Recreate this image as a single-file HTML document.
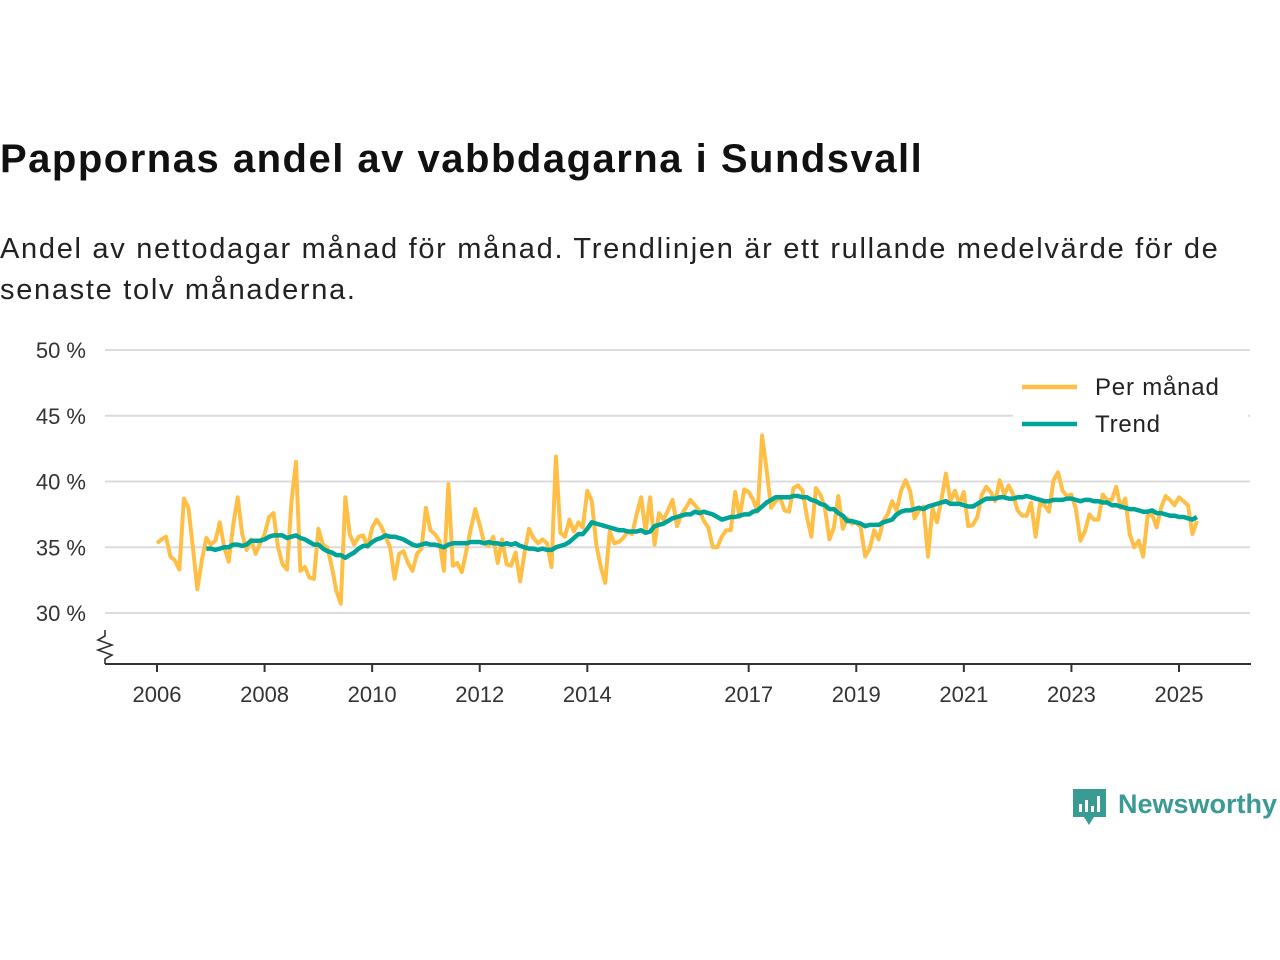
<!DOCTYPE html>
<html><head><meta charset="utf-8">
<style>
body{margin:0;width:1280px;height:960px;background:#fff;font-family:"Liberation Sans","DejaVu Sans",sans-serif;overflow:hidden;position:relative}
h1{position:absolute;left:0;top:137px;margin:0;font-size:40px;font-weight:bold;color:#111;letter-spacing:1.5px}
.sub{position:absolute;left:0;top:229px;margin:0;font-size:29px;line-height:41px;color:#222;width:1250px;letter-spacing:1.7px}
svg{position:absolute;left:0;top:0}
</style></head><body>
<h1>Pappornas andel av vabbdagarna i Sundsvall</h1>
<p class="sub">Andel av nettodagar månad för månad. Trendlinjen är ett rullande medelvärde för de senaste tolv månaderna.</p>
<svg id="chart" width="1280" height="960"></svg>
<script>
const startYear=2006;
const yTicks=[30,35,40,45,50];
const xTickYears=[2006,2008,2010,2012,2014,2017,2019,2021,2023,2025];
const monthly=[
35.3,35.6,35.8,34.3,34.0,33.3,38.7,38.0,35.0,31.8,34.0,35.7,
35.2,35.5,36.9,35.0,33.9,36.7,38.8,36.0,34.8,35.6,34.5,35.3,
36.0,37.3,37.6,35.0,33.7,33.3,38.5,41.5,33.2,33.5,32.7,32.6,
36.4,35.2,35.0,33.5,31.7,30.7,38.8,36.0,35.2,35.8,35.9,35.0,
36.5,37.1,36.6,35.8,35.0,32.6,34.5,34.7,33.8,33.2,34.5,34.9,
38.0,36.3,36.0,35.5,33.2,39.8,33.6,33.8,33.1,34.7,36.4,37.9,
36.7,35.3,35.1,35.8,33.8,35.6,33.7,33.6,34.6,32.4,34.6,36.4,
35.7,35.3,35.6,35.3,33.5,41.9,36.1,35.8,37.1,36.2,36.9,36.5,
39.3,38.5,35.2,33.5,32.3,36.2,35.3,35.4,35.7,36.2,36.0,37.5,
38.8,36.2,38.8,35.2,37.6,37.1,37.8,38.6,36.6,37.5,38.0,38.6,
38.2,37.8,37.0,36.5,35.0,35.0,35.8,36.3,36.3,39.2,37.3,39.4,
39.2,38.6,37.7,43.5,40.9,38.0,38.5,38.8,37.8,37.7,39.5,39.7,
39.3,37.3,35.8,39.5,39.0,38.0,35.6,36.5,38.9,36.4,37.2,36.8,
36.9,36.5,34.3,34.9,36.3,35.6,37.0,37.5,38.5,37.8,39.3,40.1,
39.3,37.2,37.8,38.1,34.3,38.0,36.9,38.6,40.6,38.5,39.3,38.3,
39.2,36.6,36.7,37.3,39.0,39.6,39.2,38.5,40.1,39.0,39.7,39.0,
37.8,37.4,37.4,38.4,35.8,38.3,38.2,37.7,40.1,40.7,39.3,38.9,
39.0,37.9,35.5,36.2,37.5,37.1,37.1,39.0,38.6,38.6,39.6,38.0,
38.7,36.0,35.0,35.5,34.3,37.4,37.5,36.5,38.0,38.9,38.6,38.2,
38.8,38.5,38.2,36.0,37.0];
const trendStart=11;
const trend=[34.9,
34.9,34.8,34.9,35.0,35.0,35.2,35.2,35.1,35.2,35.5,35.5,35.5,
35.6,35.8,35.9,35.9,35.9,35.7,35.8,35.9,35.7,35.6,35.4,35.2,
35.2,34.9,34.7,34.6,34.4,34.4,34.2,34.4,34.6,34.9,35.1,35.1,
35.4,35.6,35.7,35.9,35.8,35.8,35.7,35.6,35.4,35.2,35.1,35.2,
35.3,35.2,35.2,35.1,35.0,35.2,35.3,35.3,35.3,35.3,35.4,35.4,
35.4,35.3,35.4,35.3,35.3,35.2,35.3,35.2,35.3,35.1,35.0,34.9,
34.9,34.8,34.9,34.8,34.8,35.0,35.1,35.2,35.4,35.7,36.0,36.0,
36.4,36.9,36.8,36.7,36.6,36.5,36.4,36.3,36.3,36.2,36.2,36.2,
36.3,36.1,36.2,36.6,36.7,36.8,37.0,37.2,37.3,37.4,37.5,37.5,
37.7,37.6,37.7,37.6,37.5,37.3,37.1,37.2,37.3,37.3,37.4,37.5,
37.5,37.7,37.8,38.1,38.4,38.6,38.8,38.8,38.8,38.8,38.9,38.9,
38.8,38.8,38.6,38.5,38.3,38.2,37.9,37.9,37.6,37.4,37.0,37.0,
36.9,36.8,36.6,36.7,36.7,36.7,36.9,37.0,37.1,37.5,37.7,37.8,
37.8,37.9,38.0,37.9,38.1,38.2,38.3,38.4,38.5,38.3,38.3,38.3,
38.2,38.1,38.1,38.3,38.5,38.7,38.7,38.7,38.8,38.8,38.7,38.7,
38.8,38.8,38.9,38.8,38.7,38.6,38.5,38.5,38.6,38.6,38.6,38.7,
38.7,38.6,38.5,38.6,38.6,38.5,38.5,38.4,38.4,38.2,38.2,38.1,
38.0,37.9,37.9,37.8,37.7,37.7,37.8,37.6,37.6,37.5,37.4,37.4,
37.3,37.3,37.2,37.1,37.3];

const NS='http://www.w3.org/2000/svg';
const svg=document.getElementById('chart');
const X0=157, PXM=1022/228;
const xm=i=>X0+i*PXM;
const yv=v=>613-(v-30)*(613-350)/20;
function mk(tag,attrs,parent){const e=document.createElementNS(NS,tag);for(const k in attrs)e.setAttribute(k,attrs[k]);(parent||svg).appendChild(e);return e;}

yTicks.forEach(t=>{
  const g=mk('line',{x1:105,x2:1250,y1:yv(t),y2:yv(t),stroke:'#dcdcdc','stroke-width':2});
  
  
  const l=mk('text',{x:86,y:yv(t)+8,'text-anchor':'end','font-size':22,fill:'#333'});
  l.textContent=t+' %';
  
  
});
const ax=mk('line',{x1:105,x2:1251,y1:664,y2:664,stroke:'#333','stroke-width':2});


const brk=mk('polyline',{points:'105,630 105,636 98,640 112,645 98,650 112,655 105,659 105,664',fill:'none',stroke:'#333','stroke-width':1.6});


xTickYears.forEach(yr=>{
  const x=xm((yr-startYear)*12);
  const t=mk('line',{x1:x,x2:x,y1:664,y2:672,stroke:'#333','stroke-width':2});
  
  
  const l=mk('text',{x:x,y:702,'text-anchor':'middle','font-size':22,fill:'#333'});
  l.textContent=yr;
  
  
});
const mp=mk('polyline',{points:monthly.map((v,i)=>xm(i).toFixed(1)+','+yv(v).toFixed(1)).join(' '),fill:'none',stroke:'#ffbf47','stroke-width':4,'stroke-linejoin':'round'});


const tp=mk('polyline',{points:trend.map((v,i)=>xm(i+trendStart).toFixed(1)+','+yv(v).toFixed(1)).join(' '),fill:'none',stroke:'#00a398','stroke-width':4.5,'stroke-linejoin':'round'});



const lg=mk('g',{});


mk('rect',{x:1013,y:365,width:235,height:78,fill:'#fff'},lg);
mk('line',{x1:1022,x2:1077,y1:387,y2:387,stroke:'#ffbf47','stroke-width':4.5},lg);
const t1=mk('text',{x:1095,y:395,'font-size':24,fill:'#222','letter-spacing':0.8},lg);t1.textContent='Per månad';


mk('line',{x1:1022,x2:1077,y1:424,y2:424,stroke:'#00a398','stroke-width':4.5},lg);
const t2=mk('text',{x:1095,y:432,'font-size':24,fill:'#222','letter-spacing':0.8},lg);t2.textContent='Trend';



const logo=mk('g',{});


mk('path',{d:'M1073,789 h33 v28 h-12 l-5,8 l-5,-8 h-11 z',fill:'#3a9a94'},logo);
mk('rect',{x:1079,y:804,width:3,height:8,fill:'#fff'},logo);
mk('rect',{x:1085,y:800,width:3,height:12,fill:'#fff'},logo);
mk('rect',{x:1091,y:806,width:3,height:6,fill:'#fff'},logo);
mk('rect',{x:1097,y:796,width:3,height:16,fill:'#fff'},logo);
const lt=mk('text',{x:1118,y:813,'font-size':27,'font-weight':'bold',fill:'#3a9a94'},logo);lt.textContent='Newsworthy';
</script>
</body></html>
